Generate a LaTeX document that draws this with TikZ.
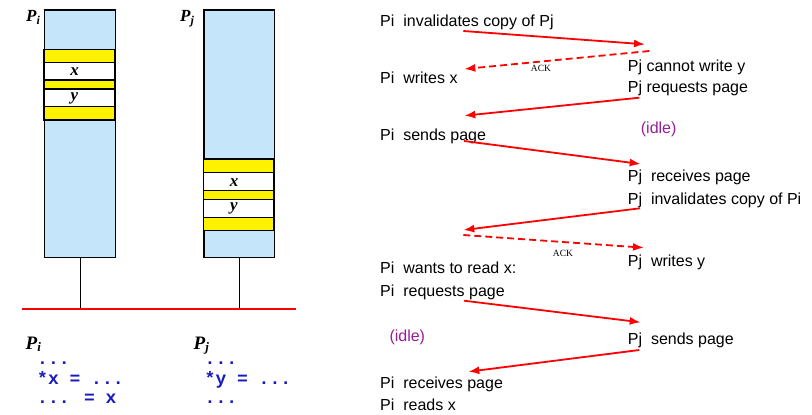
\documentclass[tikz,border=0pt]{standalone}
\usepackage{fontspec}
\setmainfont{Liberation Sans}
\newfontfamily\serifbi{Liberation Serif}
\newfontfamily\codefont{Liberation Mono}
\usetikzlibrary{arrows.meta}
\definecolor{membg}{RGB}{197,230,250}
\definecolor{codeblue}{RGB}{26,26,190}
\definecolor{idlepurple}{RGB}{150,30,150}
\begin{document}
\begin{tikzpicture}[x=1pt,y=-1pt,
  mem/.style={draw=black,line width=1.2pt,fill=membg,inner sep=0pt,anchor=north west},
  ybar/.style={draw=black,line width=1.2pt,fill=yellow},
  wcell/.style={draw=black,line width=1.2pt,fill=white},
  stemline/.style={draw=black,line width=1pt},
  busline/.style={draw=red,line width=2pt},
  plab/.style={inner sep=0pt,anchor=base west,font=\serifbi\bfseries\itshape\fontsize{17}{19}\selectfont},
  plabb/.style={inner sep=0pt,anchor=base west,font=\serifbi\bfseries\itshape\fontsize{19}{21}\selectfont},
  cvar/.style={inner sep=0pt,anchor=base,font=\serifbi\bfseries\itshape\fontsize{17}{19}\selectfont},
  code/.style={inner sep=0pt,anchor=base west,text=codeblue,font=\codefont\bfseries\fontsize{18}{20}\selectfont},
  txt/.style={inner sep=0pt,anchor=base west,font=\fontsize{16}{18}\selectfont},
  idle/.style={txt,text=idlepurple},
  ack/.style={inner sep=0pt,font=\serifbi\fontsize{9.5}{11}\selectfont},
  msg/.style={draw=red,line width=1.8pt,-{Latex[length=11pt,width=8pt]}},
  ackmsg/.style={msg,dash pattern=on 7pt off 4pt}
]
\useasboundingbox (0,0) rectangle (812,415);

% memory boxes
\node[mem,minimum width=71pt,minimum height=247.4pt] (pi) at (44,9.3) {};
\node[mem,minimum width=70.7pt,minimum height=247.4pt] (pj) at (203.3,9.3) {};

% bands Pi
\draw[ybar] (44,49.3) rectangle (115,62.3);
\draw[wcell] (44,62.3) rectangle (115,80);
\draw[ybar] (44,80) rectangle (115,89);
\draw[wcell] (44,89) rectangle (115,106.7);
\draw[ybar] (44,106.7) rectangle (115,120);
\node[cvar] (pix) at (74.5,75.7) {x};
\node[cvar] (piy) at (74.5,100) {y};

% bands Pj
\draw[ybar] (203.3,159) rectangle (274,172.3);
\draw[wcell] (203.3,172.3) rectangle (274,190.7);
\draw[ybar] (203.3,190.7) rectangle (274,199.3);
\draw[wcell] (203.3,199.3) rectangle (274,217.3);
\draw[ybar] (203.3,217.3) rectangle (274,230.7);
\node[cvar] (pjx) at (234,186.7) {x};
\node[cvar] (pjy) at (234,210) {y};

% labels
\node[plab] (lpi) at (26,21.7) {P\raisebox{-3pt}{\fontsize{12}{13}\selectfont i}};
\node[plab] (lpj) at (180,21.7) {P\raisebox{-3pt}{\fontsize{12}{13}\selectfont j}};

% bus
\coordinate (busL) at (22,309.3);
\coordinate (busR) at (296,309.3);
\path[stemline] (pi.south) -- (pi.south |- busL);
\path[stemline] (pj.south) -- (pj.south |- busL);
\path[busline] (busL) -- (busR);

% code
\node[plabb] (cpi) at (25.5,349) {P\raisebox{-2.5pt}{\fontsize{13}{14}\selectfont i}};
\node[plabb] (cpj) at (193.5,349) {P\raisebox{-2.5pt}{\fontsize{13}{14}\selectfont j}};
\node[code] (ci1) at (37,364.5) {...};
\node[code] (ci2) at (37,384) {*x = ...};
\node[code] (ci3) at (37,403) {... = x};
\node[code] (cj1) at (204.5,364.5) {...};
\node[code] (cj2) at (204.5,384) {*y = ...};
\node[code] (cj3) at (204.5,403) {...};

% right: texts
\node[txt] (t1) at (380,27) {Pi\ \ invalidates copy of Pj};
\node[txt] (t2) at (380,83.3) {Pi\ \ writes x};
\node[txt] (t3) at (627.7,71) {Pj cannot write y};
\node[txt] (t4) at (627.7,92.7) {Pj requests page};
\node[idle] (t5) at (640.7,133) {(idle)};
\node[txt] (t6) at (380,140.7) {Pi\ \ sends page};
\node[txt] (t7) at (627.7,181.7) {Pj\ \ receives page};
\node[txt] (t8) at (627.7,204) {Pj\ \ invalidates copy of Pi};
\node[txt] (t9) at (627.7,266) {Pj\ \ writes y};
\node[txt] (t10) at (380,273.3) {Pi\ \ wants to read x:};
\node[txt] (t11) at (380,296.7) {Pi\ \ requests page};
\node[idle] (t12) at (389.3,341.7) {(idle)};
\node[txt] (t13) at (627.7,344) {Pj\ \ sends page};
\node[txt] (t14) at (380,388.3) {Pi\ \ receives page};
\node[txt] (t15) at (380,410.7) {Pi\ \ reads x};

% arrow end points
\coordinate (a1s) at (463.3,31);   \coordinate (a1e) at (645,44.3);
\coordinate (a2s) at (649.3,51);   \coordinate (a2e) at (464.3,69);
\coordinate (a3s) at (639.3,97.7); \coordinate (a3e) at (464.3,115.7);
\coordinate (a4s) at (464,141);    \coordinate (a4e) at (640.7,164);
\coordinate (a5s) at (640,208.3);  \coordinate (a5e) at (463.3,230);
\coordinate (a6s) at (463.3,235);  \coordinate (a6e) at (644,247.7);
\coordinate (a7s) at (464,300.7);  \coordinate (a7e) at (640.7,322.3);
\coordinate (a8s) at (639.3,350);  \coordinate (a8e) at (468.3,371.7);

\draw[msg] (a1s) -- (a1e);
\draw[ackmsg] (a2s) -- (a2e);
\draw[msg] (a3s) -- (a3e);
\draw[msg] (a4s) -- (a4e);
\draw[msg] (a5s) -- (a5e);
\draw[ackmsg] (a6s) -- (a6e);
\draw[msg] (a7s) -- (a7e);
\draw[msg] (a8s) -- (a8e);

\node[ack] (ack1) at (541,68) {ACK};
\node[ack] (ack2) at (563,253) {ACK};
\end{tikzpicture}
\end{document}
